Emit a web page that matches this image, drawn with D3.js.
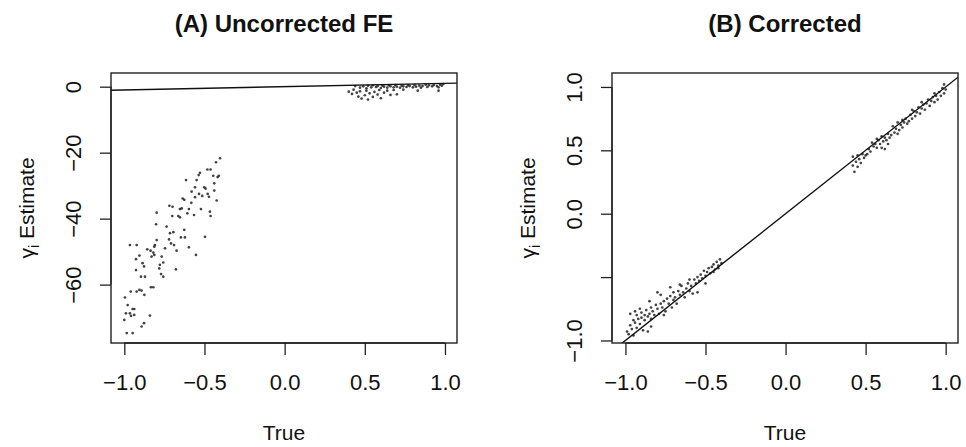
<!DOCTYPE html>
<html>
<head>
<meta charset="utf-8">
<script src="https://cdn.jsdelivr.net/npm/d3@7"></script>
<style>
  html, body { margin: 0; padding: 0; background: #fff; }
  svg text { font-family: "Liberation Sans", Arial, Helvetica, sans-serif; fill: #111; }
</style>
</head>
<body>
<svg id="chart" width="966" height="447"></svg>
<script>
// Panel A: uncorrected fixed-effect estimates vs true values
const trueA = [
  -0.403,-0.428,-0.482,-0.462,-0.528,-0.536,-0.445,-0.410,-0.418,-0.615,
  -0.439,-0.559,-0.501,-0.493,-0.439,-0.534,-0.480,-0.514,-0.472,-0.559,
  -0.636,-0.626,-0.582,-0.424,-0.699,-0.653,-0.597,-0.642,-0.522,-0.466,
  -0.462,-0.719,-0.798,-0.565,-0.701,-0.663,-0.653,-0.607,-0.802,-0.736,
  -0.626,-0.715,-0.694,-0.647,-0.622,-0.497,-0.721,-0.798,-0.709,-0.690,
  -0.965,-0.923,-0.809,-0.813,-0.597,-0.746,-0.857,-0.836,-0.819,-0.674,
  -0.813,-0.830,-0.906,-0.927,-0.767,-0.757,-0.553,-0.886,-0.877,-0.778,
  -0.782,-0.927,-0.678,-0.771,-0.757,-0.896,-0.871,-0.819,-0.834,-0.906,
  -0.892,-0.875,-0.923,-0.960,-0.996,-0.979,-0.948,-0.938,-0.965,-0.938,
  -0.958,-0.840,-1.000,-0.877,-0.892,-0.985,-0.948,-0.990,-0.549,-0.580,
  0.44,0.47,0.49,0.51,0.52,0.54,0.55,0.57,0.58,0.60,
  0.61,0.62,0.64,0.65,0.66,0.68,0.69,0.70,0.72,0.73,
  0.74,0.76,0.77,0.78,0.80,0.81,0.82,0.84,0.85,0.86,
  0.88,0.89,0.90,0.92,0.93,0.95,0.96,0.97,0.98,0.99,
  0.40,0.42,0.43,0.45,0.46,0.47,0.48,0.50,0.51,0.52,
  0.53,0.55,0.56,0.58,0.59,0.60,0.62,0.64,0.66,0.68,
  0.70,0.74,0.83,0.96
];
const estA = [
  -21.7,-22.9,-25.1,-25.1,-26.1,-26.8,-27.0,-27.0,-27.4,-28.3,
  -29.3,-30.5,-30.5,-30.9,-31.5,-32.5,-32.5,-33.1,-33.4,-33.5,
  -33.9,-34.3,-35.2,-34.5,-36.4,-37.1,-37.1,-36.9,-37.1,-37.9,
  -39.2,-36.1,-38.2,-38.9,-39.2,-39.2,-39.6,-38.4,-41.7,-42.4,
  -43.4,-44.4,-44.1,-45.7,-45.7,-45.5,-46.3,-46.5,-47.5,-48.0,
  -48.0,-48.0,-48.0,-48.5,-48.7,-49.0,-49.3,-49.7,-50.3,-49.7,
  -51.0,-51.5,-51.2,-52.3,-51.5,-53.3,-51.0,-53.5,-54.5,-54.0,
  -55.1,-55.6,-55.4,-56.8,-57.6,-57.6,-57.6,-60.8,-60.8,-61.6,
  -61.8,-63.1,-62.1,-62.1,-63.9,-66.2,-67.4,-67.4,-68.7,-69.2,
  -69.5,-69.4,-70.7,-71.7,-72.7,-74.7,-74.7,-68.7,-28.3,-31.8,
  0.2,-0.3,0.1,-0.5,0.3,-0.2,0.4,-0.1,0.2,-0.4,
  0.3,0.0,-0.3,0.4,0.1,-0.2,0.5,0.0,-0.3,0.3,
  0.1,-0.1,0.4,0.2,-0.2,0.5,0.0,0.3,-0.3,0.2,
  0.6,-0.1,0.4,0.1,0.5,0.2,-0.2,0.6,0.3,0.8,
  -1.5,-2.2,-0.9,-1.8,-3.0,-1.4,-3.6,-2.6,-1.2,-3.9,
  -2.0,-3.1,-1.6,-2.4,-1.0,-3.5,-1.8,-1.2,-2.5,-1.0,
  -2.3,-0.9,-1.2,-1.2
];

// Panel B: bias-corrected estimates vs true values
const trueB = [
  -0.99,-0.98,-0.97,-0.97,-0.96,-0.95,-0.95,-0.94,-0.93,-0.93,
  -0.92,-0.91,-0.90,-0.90,-0.89,-0.88,-0.88,-0.87,-0.86,-0.86,
  -0.85,-0.84,-0.84,-0.83,-0.82,-0.81,-0.80,-0.80,-0.79,-0.78,
  -0.77,-0.76,-0.75,-0.74,-0.73,-0.72,-0.71,-0.70,-0.70,-0.69,
  -0.68,-0.67,-0.66,-0.65,-0.64,-0.63,-0.62,-0.61,-0.60,-0.59,
  -0.58,-0.57,-0.56,-0.55,-0.55,-0.54,-0.53,-0.52,-0.51,-0.50,
  -0.50,-0.49,-0.48,-0.47,-0.46,-0.45,-0.45,-0.44,-0.43,-0.42,
  -0.42,-0.41,-0.40,-0.94,-0.91,-0.85,-0.78,-0.72,-0.66,-0.60,
  -0.84,-0.76,
  0.42,0.42,0.43,0.44,0.45,0.45,0.46,0.47,0.48,0.49,
  0.50,0.52,0.53,0.54,0.55,0.56,0.57,0.58,0.59,0.60,
  0.60,0.61,0.62,0.62,0.63,0.64,0.65,0.66,0.67,0.68,
  0.69,0.70,0.71,0.72,0.73,0.73,0.74,0.75,0.76,0.77,
  0.78,0.79,0.80,0.81,0.82,0.83,0.84,0.85,0.86,0.87,
  0.88,0.89,0.90,0.91,0.92,0.93,0.94,0.95,0.96,0.97,
  0.98,0.99,0.99,1.00,0.64,0.70,0.57,0.51,0.79,0.85,
  0.93
];
const estB = [
  -0.93,-0.95,-0.79,-0.88,-0.91,-0.84,-0.96,-0.86,-0.80,-0.90,
  -0.83,-0.87,-0.78,-0.82,-0.92,-0.80,-0.84,-0.76,-0.81,-0.93,
  -0.79,-0.74,-0.83,-0.77,-0.80,-0.72,-0.75,-0.62,-0.79,-0.71,
  -0.74,-0.69,-0.77,-0.67,-0.71,-0.65,-0.74,-0.68,-0.62,-0.66,
  -0.71,-0.61,-0.64,-0.57,-0.62,-0.66,-0.59,-0.55,-0.61,-0.57,
  -0.63,-0.52,-0.55,-0.50,-0.62,-0.53,-0.48,-0.51,-0.45,-0.49,
  -0.55,-0.46,-0.43,-0.47,-0.42,-0.46,-0.40,-0.44,-0.38,-0.43,
  -0.41,-0.36,-0.39,-0.77,-0.75,-0.69,-0.64,-0.58,-0.56,-0.52,
  -0.89,-0.80,
  0.45,0.38,0.33,0.41,0.46,0.37,0.43,0.40,0.47,0.44,
  0.46,0.51,0.49,0.56,0.53,0.55,0.52,0.58,0.55,0.61,
  0.52,0.57,0.60,0.51,0.58,0.63,0.60,0.62,0.69,0.64,
  0.67,0.72,0.66,0.70,0.74,0.68,0.72,0.75,0.71,0.73,
  0.78,0.75,0.81,0.77,0.80,0.84,0.79,0.83,0.86,0.82,
  0.87,0.90,0.85,0.89,0.92,0.88,0.93,0.90,0.96,0.93,
  0.99,0.95,1.02,0.98,0.55,0.63,0.59,0.47,0.82,0.88,
  0.95
];

// Axis ticks and their labels
const xTicks = [-1.0, -0.5, 0.0, 0.5, 1.0];
const xTickLabels = ["\u22121.0", "\u22120.5", "0.0", "0.5", "1.0"];
const yTicksA = [0, -20, -40, -60];
const yTickLabelsA = ["0", "\u221220", "\u221240", "\u221260"];
const yTicksB = [1.0, 0.5, 0.0, -0.5, -1.0];
const yTickLabelsB = ["1.0", "0.5", "0.0", "", "\u22121.0"];

const titles = ["(A) Uncorrected FE", "(B) Corrected"];
const xTitle = "True";

const svg = d3.select("#chart");

const panels = [
  {
    title: titles[0], xs: trueA, ys: estA,
    x: d3.scaleLinear().domain([-1.083, 1.075]).range([111, 457]),
    y: d3.scaleLinear().domain([-77.7, 4.15]).range([343, 73]),
    yTicks: yTicksA, yLabels: yTickLabelsA
  },
  {
    title: titles[1], xs: trueB, ys: estB,
    x: d3.scaleLinear().domain([-1.084, 1.077]).range([612, 958]),
    y: d3.scaleLinear().domain([-1.02, 1.11]).range([343, 73]),
    yTicks: yTicksB, yLabels: yTickLabelsB
  }
];

panels.forEach((p, i) => {
  const [x0, x1] = p.x.range();
  const [y1, y0] = p.y.range();
  const g = svg.append("g");
  const cx = (x0 + x1) / 2;
  const cy = (y0 + y1) / 2;

  // clip region for the reference line
  const clipId = "clip" + i;
  svg.append("clipPath").attr("id", clipId)
    .append("rect").attr("x", x0).attr("y", y0)
    .attr("width", x1 - x0).attr("height", y1 - y0);

  // points
  g.append("g").selectAll("circle")
    .data(p.xs.map((v, k) => [v, p.ys[k]]))
    .join("circle")
    .attr("cx", d => p.x(d[0]))
    .attr("cy", d => p.y(d[1]))
    .attr("r", 1.35)
    .attr("fill", "#222")
    .attr("opacity", 0.85);

  // 45-degree reference line (estimate = true)
  const xd = p.x.domain();
  g.append("line")
    .attr("clip-path", `url(#${clipId})`)
    .attr("x1", p.x(xd[0])).attr("y1", p.y(xd[0]))
    .attr("x2", p.x(xd[1])).attr("y2", p.y(xd[1]))
    .attr("stroke", "#111").attr("stroke-width", 1.4);

  // x axis
  const xAxis = d3.axisBottom(p.x).tickValues(xTicks)
    .tickFormat((d, k) => xTickLabels[k]).tickSize(12).tickPadding(12);
  const gx = g.append("g").attr("transform", `translate(0,${y1})`).call(xAxis);
  gx.select(".domain").attr("d", `M${p.x(xTicks[0])},0H${p.x(xTicks[xTicks.length - 1])}`);
  gx.selectAll("line, path").attr("stroke", "#222").attr("stroke-width", 1.3);
  gx.selectAll("text").attr("font-size", 22).attr("fill", "#111")
    .attr("y", 0).attr("dy", null)
    .attr("transform", "translate(0,47)");

  // y axis (labels parallel to axis)
  const yAxis = d3.axisLeft(p.y).tickValues(p.yTicks)
    .tickFormat((d, k) => p.yLabels[k]).tickSize(11);
  const gy = g.append("g").attr("transform", `translate(${x0},0)`).call(yAxis);
  gy.select(".domain").attr("d",
    `M0,${p.y(d3.max(p.yTicks))}V${p.y(d3.min(p.yTicks))}`);
  gy.selectAll("line, path").attr("stroke", "#222").attr("stroke-width", 1.3);
  gy.selectAll("text")
    .attr("font-size", 22).attr("fill", "#111")
    .attr("x", 0).attr("dy", null)
    .attr("text-anchor", "middle")
    .attr("transform", "translate(-38,0) rotate(-90) translate(0,8)");

  // plot frame
  g.append("rect").attr("x", x0).attr("y", y0)
    .attr("width", x1 - x0).attr("height", y1 - y0)
    .attr("fill", "none").attr("stroke", "#222").attr("stroke-width", 1.4);

  // panel title
  g.append("text").attr("x", cx).attr("y", 32)
    .attr("text-anchor", "middle").attr("font-size", 24)
    .attr("font-weight", "bold").text(p.title);

  // axis titles
  g.append("text").attr("x", cx).attr("y", 440)
    .attr("text-anchor", "middle").attr("font-size", 21).text(xTitle);

  const yl = g.append("text")
    .attr("transform", `translate(${x0 - 84},${cy}) rotate(-90)`)
    .attr("text-anchor", "middle").attr("font-size", 21).attr("dy", "0.35em");
  yl.append("tspan").text("\u03b3");
  yl.append("tspan").attr("font-size", 14).attr("dy", "0.3em").text("i");
  yl.append("tspan").attr("dy", "-0.2em").text(" Estimate");
});
</script>
</body>
</html>
